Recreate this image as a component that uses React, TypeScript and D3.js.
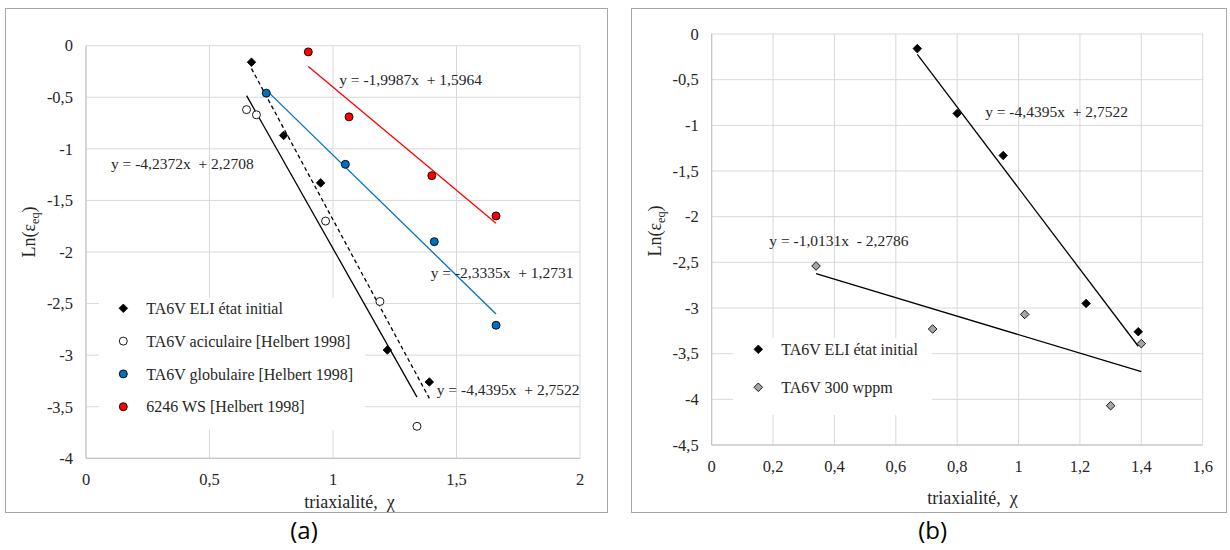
import React from "react";
import * as d3 from "d3";

const FONT = "'Liberation Serif', 'Times New Roman', serif";

// ---- data ----
const eliX = [0.67, 0.8, 0.95, 1.22, 1.39];
const eliY = [-0.16, -0.87, -1.33, -2.95, -3.26];
const acicX = [0.65, 0.69, 0.97, 1.19, 1.34];
const acicY = [-0.62, -0.67, -1.7, -2.48, -3.69];
const globX = [0.73, 1.05, 1.41, 1.66];
const globY = [-0.46, -1.15, -1.9, -2.71];
const wsX = [0.9, 1.065, 1.4, 1.66];
const wsY = [-0.06, -0.69, -1.26, -1.65];
const h300X = [0.34, 0.72, 1.02, 1.3, 1.4];
const h300Y = [-2.54, -3.23, -3.07, -4.07, -3.39];

// trend coefficients [slope, intercept]
const trendEli = [-4.4395, 2.7522];
const trendAcic = [-4.2372, 2.2708];
const trendGlob = [-2.3335, 1.2731];
const trendWs = [-1.9987, 1.5964];
const trendH300 = [-1.0131, -2.2786];

const eqEli = "y = -4,4395x  + 2,7522";
const eqAcic = "y = -4,2372x  + 2,2708";
const eqGlob = "y = -2,3335x  + 1,2731";
const eqWs = "y = -1,9987x  + 1,5964";
const eqH300 = "y = -1,0131x  - 2,2786";

const legendLeft = [
  "TA6V ELI état initial",
  "TA6V aciculaire [Helbert 1998]",
  "TA6V globulaire [Helbert 1998]",
  "6246 WS [Helbert 1998]",
];
const legendRight = ["TA6V ELI état initial", "TA6V 300 wppm"];

const xTicksA = [0, 0.5, 1, 1.5, 2];
const yTicksA = [0, -0.5, -1, -1.5, -2, -2.5, -3, -3.5, -4];
const xTicksB = [0, 0.2, 0.4, 0.6, 0.8, 1, 1.2, 1.4, 1.6];
const yTicksB = [0, -0.5, -1, -1.5, -2, -2.5, -3, -3.5, -4, -4.5];

const xTitle = "triaxialité,  χ";

const fmt = d3
  .formatLocale({ decimal: ",", thousands: " ", grouping: [3], currency: ["", ""], minus: "-" })
  .format("");

type Marker = "diamond" | "circle";
type Series = {
  xs: number[];
  ys: number[];
  marker: Marker;
  fill: string;
  trend: number[];
  lineColor: string;
  dash?: string;
};
type Eq = { text: string; x: number; y: number };

function MarkerShape({ type, x, y, fill }: { type: Marker; x: number; y: number; fill: string }) {
  if (type === "diamond") {
    const r = 4.3;
    return (
      <path
        d={`M${x},${y - r}L${x + r},${y}L${x},${y + r}L${x - r},${y}Z`}
        fill={fill}
        stroke="#000"
        strokeWidth={fill === "#000" ? 0.8 : 0.9}
      />
    );
  }
  return <circle cx={x} cy={y} r={4} fill={fill} stroke="#000" strokeWidth={0.9} />;
}

function Panel(props: {
  frame: [number, number, number, number];
  xr: [number, number];
  yr: [number, number];
  xd: [number, number];
  yd: [number, number];
  xTicks: number[];
  yTicks: number[];
  series: Series[];
  eqs: Eq[];
  legend: string[];
  legendBox: [number, number, number, number];
  legendX: number;
  legendY0: number;
  legendStep: number;
  titleX: number;
  titleY: number;
  yTitleX: number;
  yTitleY: number;
  tag: string;
  tagX: number;
}) {
  const x = d3.scaleLinear().domain(props.xd).range(props.xr);
  const y = d3.scaleLinear().domain(props.yd).range(props.yr);
  const [fx, fy, fw, fh] = props.frame;
  const line = d3
    .line<number[]>()
    .x((d) => x(d[0]))
    .y((d) => y(d[1]));
  const grid = "#d9d9d9";
  const [lbx, lby, lbw, lbh] = props.legendBox;
  return (
    <g fontFamily={FONT}>
      <rect x={fx} y={fy} width={fw} height={fh} fill="#fff" stroke="#a6a6a6" strokeWidth={1} />
      {props.yTicks.map((t) => (
        <line key={"gy" + t} x1={props.xr[0]} x2={props.xr[1]} y1={y(t)} y2={y(t)} stroke={grid} strokeWidth={1} />
      ))}
      {props.xTicks.map((t) => (
        <line key={"gx" + t} x1={x(t)} x2={x(t)} y1={props.yr[0]} y2={props.yr[1]} stroke={grid} strokeWidth={1} />
      ))}
      <line x1={props.xr[0]} x2={props.xr[1]} y1={props.yr[0]} y2={props.yr[0]} stroke="#bfbfbf" strokeWidth={1} />
      <line x1={props.xr[0]} x2={props.xr[0]} y1={props.yr[0]} y2={props.yr[1]} stroke="#bfbfbf" strokeWidth={1} />
      <rect x={lbx} y={lby} width={lbw} height={lbh} fill="#fff" />
      {props.yTicks.map((t) => (
        <text key={"ly" + t} x={props.xr[0] - 13} y={y(t)} dy="0.35em" textAnchor="end" fontSize={16.5} fill="#262626">
          {fmt(t)}
        </text>
      ))}
      {props.xTicks.map((t) => (
        <text key={"lx" + t} x={x(t)} y={props.yr[0] + 21} dy="0.35em" textAnchor="middle" fontSize={16.5} fill="#262626">
          {fmt(t)}
        </text>
      ))}
      {props.series.map((s, i) => {
        const lo = d3.min(s.xs) as number;
        const hi = d3.max(s.xs) as number;
        const pts = [lo, hi].map((v) => [v, s.trend[0] * v + s.trend[1]]);
        return (
          <path
            key={"t" + i}
            d={line(pts) || ""}
            fill="none"
            stroke={s.lineColor}
            strokeWidth={1.3}
            strokeDasharray={s.dash}
          />
        );
      })}
      {props.series.map((s, i) => (
        <g key={"m" + i}>
          {s.xs.map((v, j) => (
            <MarkerShape key={j} type={s.marker} x={x(v)} y={y(s.ys[j])} fill={s.fill} />
          ))}
        </g>
      ))}
      {props.eqs.map((e, i) => (
        <text key={"e" + i} x={x(e.x)} y={y(e.y)} fontSize={15.5} fill="#262626" style={{ whiteSpace: "pre" }}>
          {e.text}
        </text>
      ))}
      {props.legend.map((l, i) => {
        const s = props.series[i];
        const ly = props.legendY0 + i * props.legendStep;
        return (
          <g key={"lg" + i}>
            <MarkerShape type={s.marker} x={props.legendX} y={ly} fill={s.fill} />
            <text x={props.legendX + 23} y={ly} dy="0.35em" fontSize={16} fill="#262626">
              {l}
            </text>
          </g>
        );
      })}
      <text
        x={props.titleX}
        y={props.titleY}
        dy="0.35em"
        textAnchor="middle"
        fontSize={18}
        fill="#262626"
        style={{ whiteSpace: "pre" }}
      >
        {xTitle}
      </text>
      <text
        transform={`translate(${props.yTitleX},${props.yTitleY}) rotate(-90)`}
        textAnchor="middle"
        dy="0.35em"
        fontSize={18}
        fill="#262626"
      >
        Ln(ε
        <tspan fontSize={12} dy="4">
          eq
        </tspan>
        <tspan dy="-4">)</tspan>
      </text>
      <text
        x={props.tagX}
        y={531}
        dy="0.35em"
        textAnchor="middle"
        fontSize={24}
        fontFamily="'Open Sans', 'Liberation Sans', sans-serif"
        fill="#000"
      >
        {props.tag}
      </text>
    </g>
  );
}

export default function App() {
  const sEli: Series = { xs: eliX, ys: eliY, marker: "diamond", fill: "#000", trend: trendEli, lineColor: "#000", dash: "4,3" };
  const sAcic: Series = { xs: acicX, ys: acicY, marker: "circle", fill: "#fff", trend: trendAcic, lineColor: "#000" };
  const sGlob: Series = { xs: globX, ys: globY, marker: "circle", fill: "#0070c0", trend: trendGlob, lineColor: "#0070c0" };
  const sWs: Series = { xs: wsX, ys: wsY, marker: "circle", fill: "#ff0000", trend: trendWs, lineColor: "#ff0000" };
  const sEliB: Series = { ...sEli, dash: undefined };
  const sH300: Series = { xs: h300X, ys: h300Y, marker: "diamond", fill: "#a6a6a6", trend: trendH300, lineColor: "#000" };

  return (
    <svg
      width={1230}
      height={550}
      style={{ position: "absolute", left: 0, top: 0, display: "block", background: "#fff" }}
    >
      <rect x={0} y={0} width={1230} height={550} fill="#fff" />
      <Panel
        frame={[5.5, 8.5, 602, 504]}
        xr={[86, 580]}
        yr={[458.3, 45.7]}
        xd={[0, 2]}
        yd={[-4, 0]}
        xTicks={xTicksA}
        yTicks={yTicksA}
        series={[sEli, sAcic, sGlob, sWs]}
        eqs={[
          { text: eqWs, x: 1.025, y: -0.38 },
          { text: eqAcic, x: 0.101, y: -1.195 },
          { text: eqGlob, x: 1.3955, y: -2.25 },
          { text: eqEli, x: 1.42, y: -3.39 },
        ]}
        legend={legendLeft}
        legendBox={[99, 298, 266, 132]}
        legendX={123.3}
        legendY0={308.3}
        legendStep={32.8}
        titleX={349.5}
        titleY={501.5}
        yTitleX={29}
        yTitleY={232}
        tag="(a)"
        tagX={304}
      />
      <Panel
        frame={[631.5, 8.5, 595, 504]}
        xr={[711.7, 1202.7]}
        yr={[445, 34]}
        xd={[0, 1.6]}
        yd={[-4.5, 0]}
        xTicks={xTicksB}
        yTicks={yTicksB}
        series={[sEliB, sH300]}
        eqs={[
          { text: eqEli, x: 0.891, y: -0.909 },
          { text: eqH300, x: 0.1876, y: -2.322 },
        ]}
        legend={legendRight}
        legendBox={[733, 338, 199, 77]}
        legendX={758.3}
        legendY0={349.3}
        legendStep={38}
        titleX={972.5}
        titleY={498}
        yTitleX={655}
        yTitleY={231}
        tag="(b)"
        tagX={932.6}
      />
    </svg>
  );
}
